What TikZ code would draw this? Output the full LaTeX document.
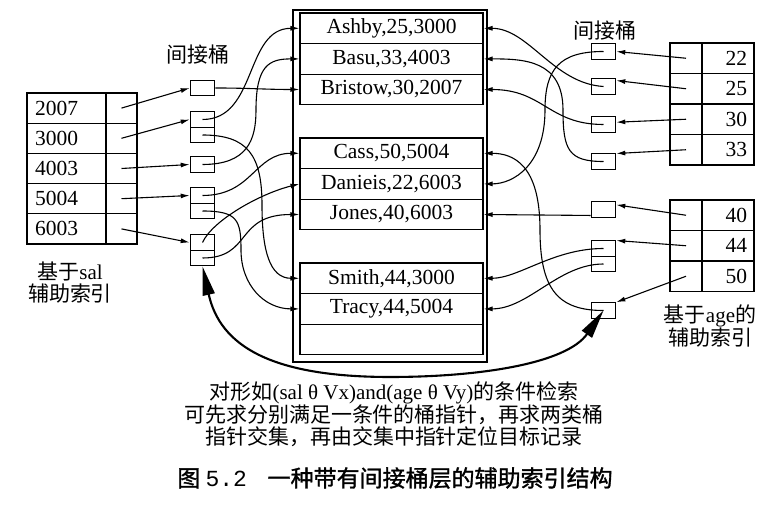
\documentclass[tikz,border=0pt]{standalone}
\usepackage{fontspec}
\setmainfont{Liberation Serif}
\newfontfamily\cjk{Noto Sans CJK SC}
\newfontfamily\cjkcap[FakeBold=1.3]{Noto Sans CJK SC}
\newfontfamily\capmono{Liberation Mono}
\usetikzlibrary{arrows.meta}
\begin{document}
\begin{tikzpicture}[x=1pt,y=-1pt,
  rec/.style={draw,line width=1.1pt,minimum width=183pt,minimum height=30.6pt,inner sep=0pt,font=\fontsize{21.5}{22}\selectfont},
  bkt/.style={draw,line width=1.1pt,minimum width=24.5pt,minimum height=15.5pt,inner sep=0pt},
  lval/.style={draw,line width=1.1pt,minimum height=30.2pt,inner ysep=0pt,inner xsep=8pt,text width=63pt,align=left,font=\fontsize{21.5}{22}\selectfont},
  lptr/.style={draw,line width=1.1pt,minimum height=30.2pt,minimum width=31pt,inner sep=0pt},
  rval/.style={draw,line width=1.1pt,minimum height=30.5pt,inner ysep=0pt,inner xsep=7pt,text width=38pt,align=right,font=\fontsize{21.5}{22}\selectfont},
  rptr/.style={draw,line width=1.1pt,minimum height=30.5pt,minimum width=32pt,inner sep=0pt},
  ptr/.style={line width=1.1pt,-{Latex[length=9pt,width=5pt]}},
  big/.style={line width=2.1pt,{Triangle[length=29pt,width=12pt]}-{Triangle[length=29pt,width=12pt]}},
  lbl/.style={font=\cjk\fontsize{21}{22}\selectfont,inner sep=0pt,align=center},
]
\useasboundingbox (0,0) rectangle (764,521);

% ---- record store ----
\node[draw,line width=1.1pt,minimum width=194pt,minimum height=352pt,inner sep=0pt] (store) at (390,186) {};
\node[rec] (ashby)   at (391.5,28.3)  {Ashby,25,3000};
\node[rec] (basu)    at (391.5,58.9)  {Basu,33,4003};
\node[rec] (bristow) at (391.5,89.5)  {Bristow,30,2007};
\node[rec] (cass)    at (391.5,153.3) {Cass,50,5004};
\node[rec] (danieis) at (391.5,183.9) {Danieis,22,6003};
\node[rec] (jones)   at (391.5,214.5) {Jones,40,6003};
\node[rec] (smith)   at (391.5,278.3) {Smith,44,3000};
\node[rec] (tracy)   at (391.5,308.9) {Tracy,44,5004};
\node[rec] (empty)   at (391.5,339.5) {};

% ---- left index (sal) ----
\node[lval] (sv1) at (66.5,108.1) {2007};
\node[lval] (sv2) at (66.5,138.3) {3000};
\node[lval] (sv3) at (66.5,168.5) {4003};
\node[lval] (sv4) at (66.5,198.7) {5004};
\node[lval] (sv5) at (66.5,228.9) {6003};
\node[lptr] (sp1) at (121.5,108.1) {};
\node[lptr] (sp2) at (121.5,138.3) {};
\node[lptr] (sp3) at (121.5,168.5) {};
\node[lptr] (sp4) at (121.5,198.7) {};
\node[lptr] (sp5) at (121.5,228.9) {};
\node[lbl] (salname) at (70,283) {基于{\rmfamily sal}\\辅助索引};

% ---- left buckets ----
\node[lbl] (lbktname) at (198,55) {间接桶};
\node[bkt] (L1)  at (202.5,88)    {};
\node[bkt] (L2a) at (202.5,119.5) {};
\node[bkt] (L2b) at (202.5,135)   {};
\node[bkt] (L3)  at (202.5,164.5) {};
\node[bkt] (L4a) at (202.5,195.5) {};
\node[bkt] (L4b) at (202.5,211)   {};
\node[bkt] (L5a) at (202.5,242.5) {};
\node[bkt] (L5b) at (202.5,258)   {};

% ---- right index (age) ----
\node[rptr] (ap1) at (686,58.25)  {};
\node[rptr] (ap2) at (686,88.75)  {};
\node[rptr] (ap3) at (686,119.25) {};
\node[rptr] (ap4) at (686,149.75) {};
\node[rval] (av1) at (728,58.25)  {22};
\node[rval] (av2) at (728,88.75)  {25};
\node[rval] (av3) at (728,119.25) {30};
\node[rval] (av4) at (728,149.75) {33};
\node[rptr] (ap5) at (686,215.25) {};
\node[rptr] (ap6) at (686,245.75) {};
\node[rptr] (ap7) at (686,276.25) {};
\node[rval] (av5) at (728,215.25) {40};
\node[rval] (av6) at (728,245.75) {44};
\node[rval] (av7) at (728,276.25) {50};
\node[lbl] (agename) at (710,326) {基于{\rmfamily age}的\\辅助索引};

% ---- right buckets ----
\node[lbl] (rbktname) at (605,31) {间接桶};
\node[bkt] (R1)  at (603.5,51.5)  {};
\node[bkt] (R2)  at (603.5,86.5)  {};
\node[bkt] (R3)  at (603.5,124.5) {};
\node[bkt] (R4)  at (603.5,161.5) {};
\node[bkt] (R5)  at (603.5,209.5) {};
\node[bkt] (R6a) at (603.5,248.5) {};
\node[bkt] (R6b) at (603.5,264)   {};
\node[bkt] (R7)  at (603.5,310.5) {};

% ---- waypoints ----
\coordinate (w3) at (262,205);
\coordinate (w4) at (256,110);
\coordinate (w6) at (241,250);
\coordinate (v1) at (545,110);
\coordinate (v4) at (563,110);
\coordinate (v8) at (540,230);
\coordinate (bot) at (390,377);

% ---- index -> buckets ----
\draw[ptr] (sp1.center) -- (L1.west);
\draw[ptr] (sp2.center) -- (L2a.west);
\draw[ptr] (sp3.center) -- (L3.west);
\draw[ptr] (sp4.center) -- (L4a.west);
\draw[ptr] (sp5.center) -- (L5a.west);
\draw[ptr] (ap1.center) -- (R1.east);
\draw[ptr] (ap2.center) -- (R2.25);
\draw[ptr] (ap3.center) -- (R3.10);
\draw[ptr] (ap4.center) -- (R4.32);
\draw[ptr] (ap5.center) -- (R5.20);
\draw[ptr] (ap6.center) -- (R6a.32);
\draw[ptr] (ap7.center) -- (R7.north east);

% ---- left buckets -> records ----
\draw[ptr] (L1.east) .. controls +(35,0) and +(-35,0) .. (bristow.west);
\draw[ptr] (L2a.center) .. controls +(55,0) and +(-55,0) .. (ashby.west);
\draw[ptr] (L2b.center) .. controls +(45,0) and +(0,-50) .. (w3) .. controls +(0,45) and +(-30,0) .. (smith.west);
\draw[ptr] (L3.center) .. controls +(45,0) and +(0,30) .. (w4) .. controls +(0,-45) and +(-30,0) .. (basu.west);
\draw[ptr] (L4a.center) .. controls +(50,0) and +(-45,0) .. (cass.west);
\draw[ptr] (L4b.center) .. controls +(35,0) and +(0,-30) .. (w6) .. controls +(0,35) and +(-35,0) .. (tracy.west);
\draw[ptr] (L5a.center) .. controls +(10,-22) and +(-40,10) .. (danieis.west);
\draw[ptr] (L5b.center) .. controls +(50,0) and +(-65,0) .. (jones.west);

% ---- right buckets -> records ----
\draw[ptr] (R1.center) .. controls +(-45,0) and +(0,-40) .. (v1) .. controls +(0,55) and +(30,0) .. (danieis.east);
\draw[ptr] (R2.center) .. controls +(-50,-3) and +(45,0) .. (ashby.east);
\draw[ptr] (R3.center) .. controls +(-55,0) and +(60,0) .. (bristow.east);
\draw[ptr] (R4.center) .. controls +(-35,0) and +(0,40) .. (v4) .. controls +(0,-50) and +(40,0) .. (basu.east);
\draw[ptr] (R5.205) -- (jones.east);
\draw[ptr] (R6a.center) .. controls +(-50,0) and +(35,0) .. (smith.east);
\draw[ptr] (R6b.center) .. controls +(-45,0) and +(45,0) .. (tracy.east);
\draw[ptr] (R7.center) .. controls +(-45,0) and +(0,60) .. (v8) .. controls +(0,-65) and +(30,0) .. (cass.east);

% ---- big double arrow ----
\draw[big] (L5b.south) .. controls +(17.5,79) and +(-120,0) .. (bot) .. controls +(90,0) and +(-37,53) .. (R7.center);

% ---- text ----
\node[lbl,font=\cjk\fontsize{21}{21.7}\selectfont] (note) at (394,414)
  {对形如{\rmfamily(sal θ Vx)and(age θ Vy)}的条件检索\\可先求分别满足一条件的桶指针，再求两类桶\\指针交集，再由交集中指针定位目标记录};
\node[inner sep=0pt,font=\cjkcap\fontsize{23}{24}\selectfont] (caption) at (395,478)
  {图 {\capmono 5.2}\hspace{0.9em}一种带有间接桶层的辅助索引结构};
\end{tikzpicture}
\end{document}
